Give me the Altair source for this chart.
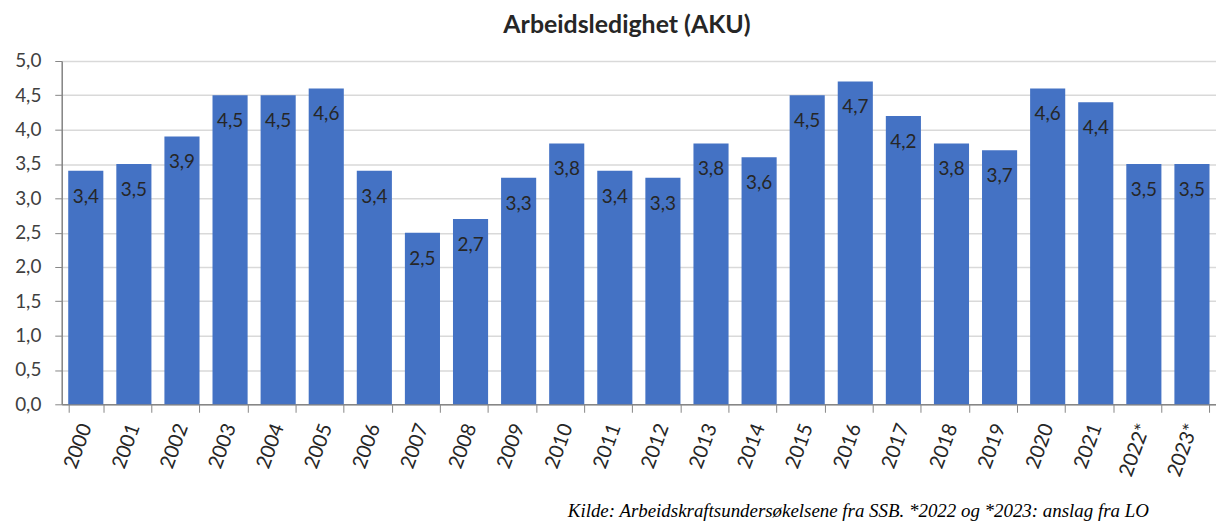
import altair as alt
import pandas as pd

years = ["2000", "2001", "2002", "2003", "2004", "2005", "2006", "2007", "2008",
         "2009", "2010", "2011", "2012", "2013", "2014", "2015", "2016", "2017",
         "2018", "2019", "2020", "2021", "2022*", "2023*"]
values = [3.4, 3.5, 3.9, 4.5, 4.5, 4.6, 3.4, 2.5, 2.7, 3.3, 3.8, 3.4, 3.3, 3.8,
          3.6, 4.5, 4.7, 4.2, 3.8, 3.7, 4.6, 4.4, 3.5, 3.5]
y_ticks = [0, 0.5, 1, 1.5, 2, 2.5, 3, 3.5, 4, 4.5, 5]

title_text = "Arbeidsledighet (AKU)"
source_text = "Kilde: Arbeidskraftsundersøkelsene fra SSB. *2022 og *2023: anslag fra LO"

df = pd.DataFrame({"year": years, "value": values})

FONT = "Lato"
BAR = "#4472C4"

x_enc = alt.X(
    "year:N",
    sort=years,
    scale=alt.Scale(paddingInner=0.27, paddingOuter=0.135),
    axis=alt.Axis(
        title=source_text,
        titleFont="Liberation Serif",
        titleFontStyle="italic",
        titleFontWeight="normal",
        titleFontSize=19,
        titleColor="#000000",
        titleAnchor="end",
        titleAlign="right",
        titleBaseline="alphabetic",
        titleAngle=0,
        titleX=1092,
        titleY=113,
        labelAngle=290,
        labelFont=FONT,
        labelFontSize=20,
        labelColor="#262626",
        labelPadding=12,
        labelOverlap=False,
        tickBand="extent",
        tickSize=8,
        tickColor="#868686",
        domainColor="#868686",
        domainWidth=1.5,
        grid=False,
    ),
)

y_enc = alt.Y(
    "value:Q",
    scale=alt.Scale(domain=[0, 5], nice=False),
    axis=alt.Axis(
        title=None,
        values=y_ticks,
        labelOverlap=False,
        labelExpr="replace(format(datum.value, '.1f'), '.', ',')",
        labelFont=FONT,
        labelFontSize=19,
        labelColor="#404040",
        labelPadding=14,
        tickSize=7,
        tickColor="#868686",
        domainColor="#868686",
        domainWidth=1.5,
        grid=True,
        gridColor="#D9D9D9",
        gridWidth=1.5,
    ),
)

base = alt.Chart(df).transform_calculate(
    lab="replace(format(datum.value, '.1f'), '.', ',')"
).encode(x=x_enc, y=y_enc)

bars = base.mark_bar(color=BAR)

labels = base.mark_text(
    font=FONT, fontSize=19, color="#262626", baseline="middle", dy=26
).encode(text="lab:N")

chart = alt.layer(bars, labels).properties(
    width=1160,
    height=345,
    title=alt.TitleParams(
        text=title_text,
        font=FONT,
        fontSize=25,
        fontWeight="bold",
        color="#262626",
        anchor="middle",
        dx=-12,
        offset=14,
    ),
    autosize=alt.AutoSizeParams(type="none"),
    padding={"left": 54, "top": 52, "right": 0, "bottom": 116},
).configure_view(stroke=None).configure(background="white")

chart.save("out.html", embed_options={"renderer": "svg", "actions": False})
